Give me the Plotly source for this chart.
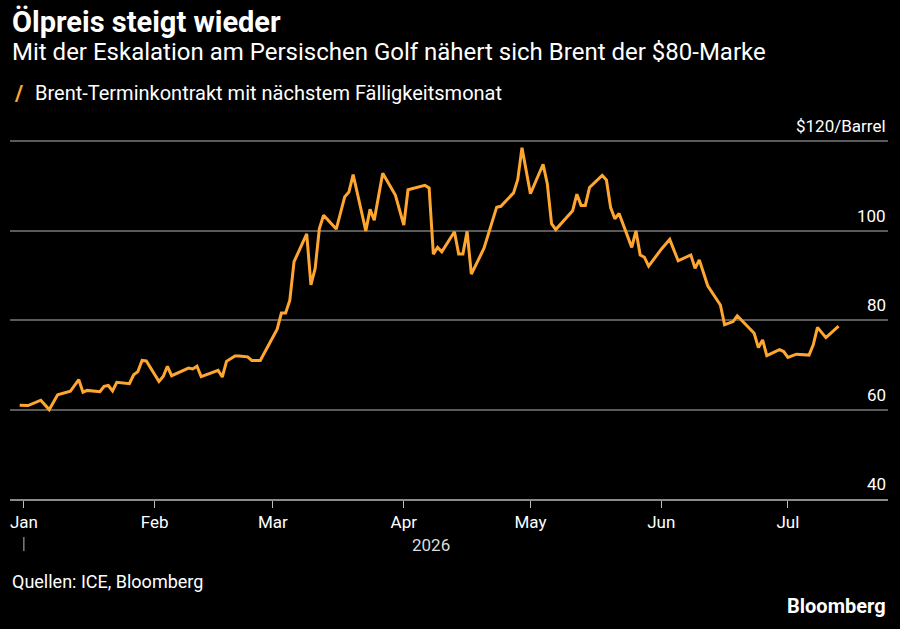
import plotly.graph_objects as go

# Brent front-month
dates = [
    "2025-12-31", "2026-01-02", "2026-01-05", "2026-01-07", "2026-01-09", "2026-01-12",
    "2026-01-14", "2026-01-15", "2026-01-16", "2026-01-19", "2026-01-20", "2026-01-21",
    "2026-01-22", "2026-01-23", "2026-01-26", "2026-01-27", "2026-01-28", "2026-01-29",
    "2026-01-30", "2026-02-02", "2026-02-03", "2026-02-04", "2026-02-05", "2026-02-09",
    "2026-02-10", "2026-02-11", "2026-02-12", "2026-02-16", "2026-02-17", "2026-02-18",
    "2026-02-20", "2026-02-21", "2026-02-23", "2026-02-24", "2026-02-26", "2026-03-02",
    "2026-03-03", "2026-03-04", "2026-03-05", "2026-03-06", "2026-03-09", "2026-03-10",
    "2026-03-11", "2026-03-12", "2026-03-13", "2026-03-16", "2026-03-18", "2026-03-19",
    "2026-03-20", "2026-03-23", "2026-03-24", "2026-03-25", "2026-03-27", "2026-03-30",
    "2026-04-01", "2026-04-02", "2026-04-06", "2026-04-07", "2026-04-08", "2026-04-09",
    "2026-04-10", "2026-04-13", "2026-04-14", "2026-04-15", "2026-04-16", "2026-04-17",
    "2026-04-20", "2026-04-21", "2026-04-23", "2026-04-24", "2026-04-27", "2026-04-28",
    "2026-04-29", "2026-05-01", "2026-05-04", "2026-05-05", "2026-05-06", "2026-05-07",
    "2026-05-11", "2026-05-12", "2026-05-13", "2026-05-14", "2026-05-15", "2026-05-18",
    "2026-05-19", "2026-05-20", "2026-05-21", "2026-05-22", "2026-05-25", "2026-05-26",
    "2026-05-27", "2026-05-28", "2026-05-29", "2026-06-01", "2026-06-03", "2026-06-05",
    "2026-06-08", "2026-06-09", "2026-06-10", "2026-06-12", "2026-06-15", "2026-06-16",
    "2026-06-18", "2026-06-19", "2026-06-23", "2026-06-24", "2026-06-25", "2026-06-26",
    "2026-06-29", "2026-06-30", "2026-07-01", "2026-07-03", "2026-07-06", "2026-07-07",
    "2026-07-08", "2026-07-10", "2026-07-13",
]
brent = [
    61.0, 60.9, 62.1, 60.0, 63.3, 64.1,
    66.7, 63.9, 64.3, 64.0, 65.2, 65.4,
    64.2, 66.1, 65.8, 67.8, 68.5, 71.0,
    70.9, 66.3, 67.4, 69.7, 67.6, 69.3,
    69.1, 69.7, 67.4, 68.8, 67.3, 70.8,
    72.0, 72.0, 71.8, 71.0, 71.0, 78.0,
    81.6, 81.6, 84.5, 93.1, 99.3, 87.9,
    91.6, 100.5, 103.5, 100.4, 107.6, 108.7,
    112.6, 100.0, 104.8, 102.4, 112.9, 108.0,
    101.3, 109.2, 110.2, 109.6, 94.8, 96.3,
    95.3, 99.8, 94.8, 94.8, 99.9, 90.3,
    96.1, 99.0, 105.3, 105.5, 108.5, 111.5,
    118.6, 108.3, 114.9, 110.5, 101.6, 100.3,
    104.5, 108.2, 105.7, 105.7, 109.7, 112.4,
    111.4, 105.2, 102.7, 103.9, 96.3, 100.0,
    94.6, 94.1, 92.1, 95.9, 98.1, 93.3,
    94.6, 91.6, 93.5, 87.7, 83.4, 79.0,
    79.7, 81.0, 77.1, 73.9, 75.6, 72.1,
    73.4, 73.0, 71.7, 72.4, 72.2, 74.5,
    78.4, 76.1, 78.7,
]

y_ticks = [40, 60, 80, 100, 120]
y_labels = ["40", "60", "80", "100", "$120/Barrel"]

FONT = "Roboto, Liberation Sans, DejaVu Sans, sans-serif"
ORANGE = "#ffa630"

fig = go.Figure()
fig.add_trace(go.Scatter(x=dates, y=brent, mode="lines",
                         line=dict(color=ORANGE, width=3),
                         showlegend=False, hoverinfo="x+y"))

fig.update_layout(
    width=900, height=629,
    paper_bgcolor="black", plot_bgcolor="black",
    margin=dict(l=10, r=12, t=137, b=130),
    font=dict(family=FONT, color="white", size=17),
    xaxis=dict(type="date", range=["2025-12-28 17:00", "2026-07-24 17:00"],
               tick0="2026-01-01", dtick="M1", tickformat="%b",
               ticks="outside", ticklen=7, tickcolor="#bbbbbb", tickwidth=1,
               showline=True, linecolor="#8a8a8a", linewidth=1.5,
               showgrid=False, zeroline=False,
               tickfont=dict(size=17, color="white")),
    yaxis=dict(range=[40, 121], side="right",
               tickvals=y_ticks, showticklabels=False, ticks="",
               showgrid=True, gridcolor="#5a5a5a", gridwidth=1.5,
               zeroline=False, showline=False),
)

# right-hand value labels sit just above their gridlines
for val, lab in zip(y_ticks, y_labels):
    fig.add_annotation(text=lab, xref="paper", yref="y", x=1.0, y=val,
                       xanchor="right", yanchor="bottom", yshift=3,
                       showarrow=False, font=dict(size=17, color="white"))

# year marker under the month labels
fig.add_shape(type="line", xref="x", yref="paper",
              x0="2026-01-01", x1="2026-01-01", y0=-0.105, y1=-0.144,
              line=dict(color="#bbbbbb", width=1))
fig.add_annotation(text="2026", xref="paper", yref="paper", x=0.479, y=-0.127,
                   xanchor="center", yanchor="middle", showarrow=False,
                   font=dict(size=17, color="#dddddd"))

# headline block
fig.add_annotation(text="<b>Ölpreis steigt wieder</b>", xref="paper", yref="paper",
                   x=0.0, y=1.318, xanchor="left", yanchor="middle",
                   showarrow=False, font=dict(size=29, color="white"))
fig.add_annotation(text="Mit der Eskalation am Persischen Golf nähert sich Brent der $80-Marke",
                   xref="paper", yref="paper", x=0.0, y=1.235,
                   xanchor="left", yanchor="middle", showarrow=False,
                   font=dict(size=24, color="white"))

# legend key drawn as a slash, like the source
fig.add_annotation(text="<b>/</b>", xref="paper", yref="paper",
                   x=0.002, y=1.1215, xanchor="left", yanchor="middle",
                   showarrow=False, font=dict(size=22, color=ORANGE))
fig.add_annotation(text="Brent-Terminkontrakt mit nächstem Fälligkeitsmonat",
                   xref="paper", yref="paper", x=0.026, y=1.1215,
                   xanchor="left", yanchor="middle", showarrow=False,
                   font=dict(size=20, color="white"))

# footer
fig.add_annotation(text="Quellen: ICE, Bloomberg", xref="paper", yref="paper",
                   x=0.0, y=-0.229, xanchor="left", yanchor="middle",
                   showarrow=False, font=dict(size=18, color="white"))
fig.add_annotation(text="<b>Bloomberg</b>", xref="paper", yref="paper",
                   x=1.0, y=-0.296, xanchor="right", yanchor="middle",
                   showarrow=False, font=dict(size=20, color="white"))

fig.write_html("out.html", config={"displayModeBar": False},
               post_script="document.body.style.margin='0';"
                           "document.body.style.background='black';")
